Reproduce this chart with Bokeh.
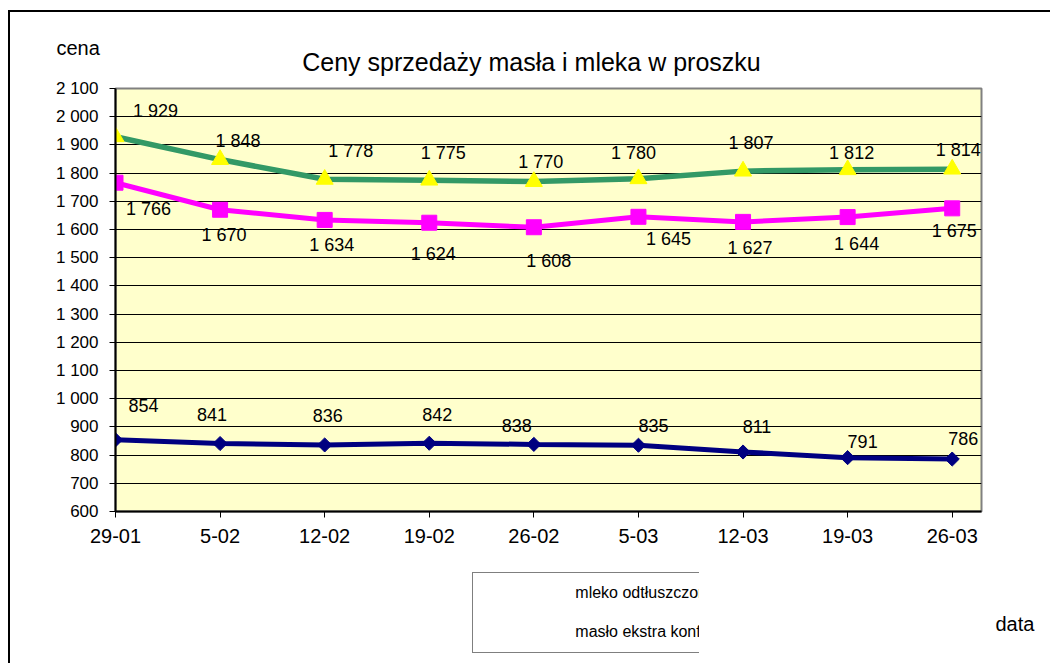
from bokeh.plotting import figure
from bokeh.layouts import column
from bokeh.models import (Range1d, FixedTicker, CustomJSTickFormatter, Label, Legend,
                          LegendItem, ColumnDataSource)
from bokeh.core.properties import value
from bokeh.embed import file_html
from bokeh.resources import INLINE
import math

# ---- data ----
dates = ["29-01", "5-02", "12-02", "19-02", "26-02", "5-03", "12-03", "19-03", "26-03"]
mleko = [854, 841, 836, 842, 838, 835, 811, 791, 786]
maslo_bloki = [1766, 1670, 1634, 1624, 1608, 1645, 1627, 1644, 1675]
maslo_konf = [1929, 1848, 1778, 1775, 1770, 1780, 1807, 1812, 1814]
y_ticks = list(range(600, 2101, 100))

series_names = ["mleko odtłuszczone w proszku", "masło ekstra w blokach",
                "masło ekstra konfekcjonowane"]

# label offsets in pixels (style only)
dx_konf = [40, 18, 26, 14, 7, -5, 8, 4, 6]
dy_konf = [-26, -19, -28, -27, -20, -26, -28, -17, -19]
dx_bloki = [33, 4, 7, 4, 15, 30, 7, 9, 2]
dy_bloki = [26, 25, 25, 31, 34, 22, 26, 27, 23]
dx_mleko = [28, -8, 3, 8, -17, 15, 14, 15, 11]
dy_mleko = [-34, -29, -29, -29, -19, -20, -25, -16, -21]

FONT = "Liberation Sans"
xs = list(range(len(dates)))

STYLE = {
    "mleko": dict(color="#000080", marker="square", angle=math.pi / 4, size=10, fill="#000080", lw=5),
    "bloki": dict(color="#FF00FF", marker="square", angle=0, size=15, fill="#FF00FF", lw=5),
    "konf": dict(color="#339966", marker="triangle", angle=0, size=17, fill="#FFFF00", lw=5.5),
}


def fmt(v):
    return f"{v:,}".replace(",", " ")


# ---------------- main chart ----------------
p = figure(frame_width=866, frame_height=423, output_backend="svg", toolbar_location=None,
           title=None, x_range=Range1d(0, 8.28), y_range=Range1d(600, 2100),
           min_border_left=115, min_border_right=67, min_border_top=88, min_border_bottom=45)

p.background_fill_color = "#FFFFCC"
p.border_fill_color = "white"
p.outline_line_color = "#808080"
p.outline_line_width = 2

p.xaxis.ticker = FixedTicker(ticks=xs)
p.xaxis.major_label_overrides = {i: d for i, d in enumerate(dates)}
p.yaxis.ticker = FixedTicker(ticks=y_ticks)
p.yaxis.formatter = CustomJSTickFormatter(
    code="return tick.toString().replace(/\\B(?=(\\d{3})+(?!\\d))/g, ' ');")
for ax in (p.xaxis, p.yaxis):
    ax.axis_line_color = "black"
    ax.axis_line_width = 2
    ax.major_tick_line_color = "black"
    ax.major_tick_line_width = 1
    ax.major_tick_out = 6
    ax.major_tick_in = 0
    ax.minor_tick_line_color = None
    ax.major_label_text_font = FONT
    ax.major_label_text_color = "black"
p.xaxis.major_label_text_font_size = "20px"
p.xaxis.major_label_standoff = 11
p.yaxis.major_label_text_font_size = "17px"
p.yaxis.major_label_standoff = 11

p.xgrid.grid_line_color = None
p.ygrid.ticker = FixedTicker(ticks=y_ticks)
p.ygrid.grid_line_color = "black"
p.ygrid.grid_line_width = 1

src = ColumnDataSource(dict(
    x=xs, mleko=mleko, bloki=maslo_bloki, konf=maslo_konf,
    t_mleko=[fmt(v) for v in mleko], t_bloki=[fmt(v) for v in maslo_bloki],
    t_konf=[fmt(v) for v in maslo_konf],
    dx_mleko=dx_mleko, dy_mleko=dy_mleko, dx_bloki=dx_bloki, dy_bloki=dy_bloki,
    dx_konf=dx_konf, dy_konf=dy_konf,
))

for col in ("mleko", "bloki", "konf"):
    s = STYLE[col]
    p.line("x", col, source=src, line_color=s["color"], line_width=s["lw"])
    p.scatter("x", col, source=src, marker=s["marker"], angle=s["angle"], size=s["size"],
              fill_color=s["fill"], line_color=s["fill"])
for col in ("mleko", "bloki", "konf"):
    p.text("x", col, text="t_" + col, source=src, x_offset="dx_" + col, y_offset="dy_" + col,
           text_align="center", text_baseline="middle", text_font=value(FONT),
           text_font_size="18px", text_color="black")

for txt, x, y, size, align in [
    ("Ceny sprzedaży masła i mleka w proszku", 531, 61, "25px", "center"),
    ("cena", 56, 47, "20px", "left"),
]:
    p.add_layout(Label(x=x, y=y, x_units="canvas", y_units="canvas", text=txt,
                       text_align=align, text_baseline="alphabetic", text_font=FONT,
                       text_font_size=size, text_color="black"), "above")

# ---------------- legend strip below the chart ----------------
p2 = figure(frame_width=1048, frame_height=105, output_backend="svg", toolbar_location=None,
            title=None, x_range=Range1d(0, 1), y_range=Range1d(0, 1),
            x_axis_location=None, y_axis_location=None, min_border=0)
p2.background_fill_color = "white"
p2.border_fill_color = "white"
p2.outline_line_color = None
p2.grid.visible = False

lr = {}
for col in ("mleko", "bloki", "konf"):
    s = STYLE[col]
    ln = p2.line(x=[], y=[], line_color=s["color"], line_width=s["lw"])
    mk = p2.scatter(x=[], y=[], marker=s["marker"], angle=s["angle"], size=s["size"],
                    fill_color=s["fill"], line_color=s["fill"])
    lr[col] = [ln, mk]

# column-major fill: col 1 = mleko, konf; col 2 = bloki
legend = Legend(items=[
    LegendItem(label=series_names[0], renderers=lr["mleko"]),
    LegendItem(label=series_names[2], renderers=lr["konf"]),
    LegendItem(label=series_names[1], renderers=lr["bloki"]),
], location=(123, 8), orientation="vertical", ncols=2)
legend.glyph_width = 89
legend.glyph_height = 20
legend.label_standoff = 3
legend.label_width = 272
legend.label_height = 20
legend.spacing = 19
legend.padding = 10
legend.margin = 0
legend.border_line_color = "black"
legend.border_line_width = 1
legend.background_fill_alpha = 0
legend.label_text_font = FONT
legend.label_text_font_size = "16px"
legend.label_text_color = "black"
p2.add_layout(legend, "center")

p2.add_layout(Label(x=995, y=67, x_units="canvas", y_units="canvas", text="data",
                    text_align="left", text_baseline="alphabetic", text_font=FONT,
                    text_font_size="20px", text_color="black"))

layout = column(p, p2, spacing=0)
layout.stylesheets = [
    ":host { position: relative; }",
    ":host::before { content: ''; position: absolute; left: 8px; top: 10px; "
    "width: calc(100% - 8px); height: calc(100% - 10px); border-top: 2px solid #000; "
    "border-left: 2px solid #000; pointer-events: none; z-index: 5; }",
]

open("out.html", "w").write(file_html(layout, INLINE))
